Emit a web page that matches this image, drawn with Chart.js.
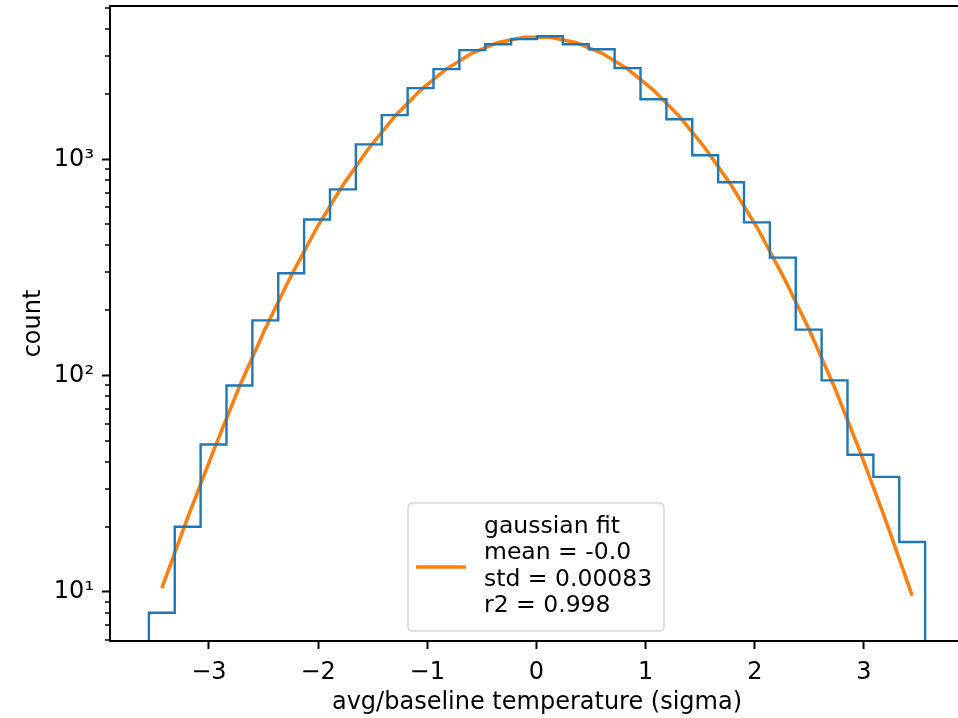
<!DOCTYPE html>
<html><head><meta charset="utf-8">
<script src="https://cdn.jsdelivr.net/npm/chart.js@4.4.1/dist/chart.umd.min.js"></script>
<style>
html,body{margin:0;padding:0;background:#fff;overflow:hidden;}
#wrap{position:relative;width:958px;height:718px;overflow:hidden;}
#c{position:absolute;left:0;top:0;width:972px;height:718px;}
</style></head><body>
<div id="wrap"><canvas id="c" width="972" height="718"></canvas></div>
<script>
// ---- data ----
const binEdgeMin = -3.55;
const binEdgeMax = 3.56;
const binCounts = [8, 20, 48, 90, 180, 297, 527, 726, 1173, 1600, 2133, 2612, 3200, 3405, 3595,
                   3710, 3405, 3230, 2640, 1897, 1532, 1044, 783, 511, 351, 163, 95, 43, 34, 17];
const fitCounts = [10.4, 22, 45, 89, 165, 290, 485, 760, 1125, 1580, 2090, 2620, 3100, 3470, 3670,
                   3670, 3470, 3100, 2620, 2090, 1580, 1125, 760, 485, 290, 165, 88, 44, 21, 9.6];
const xTicks = [-3, -2, -1, 0, 1, 2, 3];
const yTicks = [10, 100, 1000];
const yTickLabels = ['10\u00B9', '10\u00B2', '10\u00B3'];
const yMinorTicks = [6, 7, 8, 9, 20, 30, 40, 50, 60, 70, 80, 90, 200, 300, 400, 500, 600, 700, 800, 900, 2000, 3000, 4000, 5000];
const legendLines = ['gaussian fit', 'mean = -0.0', 'std = 0.00083', 'r2 = 0.998'];
const xLabel = 'avg/baseline temperature (sigma)';
const yLabel = 'count';
const xRange = [-3.906, 3.916];
const yRange = [5.92, 5117];

// ---- build datasets ----
const nBins = binCounts.length;
const binW = (binEdgeMax - binEdgeMin) / nBins;
const edges = binCounts.map((_, i) => binEdgeMin + i * binW).concat([binEdgeMax]);
const floorVal = 1;
const stepPts = [{x: edges[0], y: floorVal}];
binCounts.forEach((v, i) => { stepPts.push({x: edges[i], y: v}); stepPts.push({x: edges[i + 1], y: v}); });
stepPts.push({x: edges[nBins], y: floorVal});
const fitPts = fitCounts.map((v, i) => ({x: (edges[i] + edges[i + 1]) / 2, y: v}));

const FONT = 'DejaVu Sans';
const FS = 24;
const BLUE = '#1f77b4', ORANGE = '#ff7f0e';

const framePlugin = {
  id: 'frame',
  afterDatasetsDraw(chart) {
    const {ctx, chartArea: a, scales} = chart;
    ctx.save();
    ctx.strokeStyle = '#000'; ctx.lineWidth = 1.5;
    yMinorTicks.forEach(v => {
      const y = Math.round(scales.y.getPixelForValue(v));
      ctx.beginPath(); ctx.moveTo(a.left - 5, y); ctx.lineTo(a.left, y); ctx.stroke();
    });
    ctx.lineWidth = 2; ctx.strokeStyle = '#000'; ctx.lineCap = 'square';
    const xl = scales.x.left, xr = scales.x.right;
    ctx.beginPath();
    ctx.moveTo(xl, a.top); ctx.lineTo(xr, a.top);
    ctx.moveTo(xl, a.bottom); ctx.lineTo(xr, a.bottom);
    ctx.moveTo(xl, a.top); ctx.lineTo(xl, a.bottom);
    ctx.moveTo(xr, a.top); ctx.lineTo(xr, a.bottom);
    ctx.stroke();
    ctx.restore();
  },
  afterDraw(chart) {
    const {ctx} = chart;
    ctx.save();
    const bx = 408, by = 503, bw = 256, bh = 128, r = 5;
    ctx.beginPath();
    ctx.moveTo(bx + r, by); ctx.lineTo(bx + bw - r, by); ctx.quadraticCurveTo(bx + bw, by, bx + bw, by + r);
    ctx.lineTo(bx + bw, by + bh - r); ctx.quadraticCurveTo(bx + bw, by + bh, bx + bw - r, by + bh);
    ctx.lineTo(bx + r, by + bh); ctx.quadraticCurveTo(bx, by + bh, bx, by + bh - r);
    ctx.lineTo(bx, by + r); ctx.quadraticCurveTo(bx, by, bx + r, by);
    ctx.closePath();
    ctx.fillStyle = 'rgba(255,255,255,0.8)'; ctx.fill();
    ctx.strokeStyle = '#d6d6d6'; ctx.lineWidth = 1.5; ctx.stroke();
    ctx.strokeStyle = ORANGE; ctx.lineWidth = 3.5;
    ctx.beginPath(); ctx.moveTo(416, 567); ctx.lineTo(466, 567); ctx.stroke();
    ctx.fillStyle = '#000'; ctx.font = '23.5px "' + FONT + '"';
    ctx.textBaseline = 'middle'; ctx.textAlign = 'left';
    legendLines.forEach((t, i) => ctx.fillText(t, 484, 527 + i * 26.3));
    ctx.restore();
  }
};

new Chart(document.getElementById('c'), {
  type: 'line',
  data: {
    datasets: [
      {label: 'hist', data: stepPts, borderColor: BLUE, borderWidth: 2.4, pointRadius: 0, fill: false, tension: 0},
      {label: 'gaussian fit', data: fitPts, borderColor: ORANGE, borderWidth: 3.5, pointRadius: 0, fill: false, tension: 0}
    ]
  },
  options: {
    responsive: false, maintainAspectRatio: false, animation: false, devicePixelRatio: 1,
    layout: {padding: {top: 6, right: 8, left: 0, bottom: 0}},
    plugins: {legend: {display: false}, tooltip: {enabled: false}},
    scales: {
      x: {
        type: 'linear', min: xRange[0], max: xRange[1],
        afterBuildTicks: s => { s.ticks = xTicks.map(v => ({value: v})); },
        afterFit: s => { s.height = 77; s.paddingLeft = 0; s.paddingRight = 0; },
        grid: {display: true, drawOnChartArea: false, drawTicks: true, tickLength: 8, tickWidth: 2, tickColor: '#000'},
        border: {display: false},
        ticks: {color: '#000', font: {family: FONT, size: FS}, padding: 9, maxRotation: 0,
          callback: v => (v < 0 ? '\u2212' + Math.abs(v) : String(v))},
        title: {display: true, text: xLabel, color: '#000', font: {family: FONT, size: FS}, padding: {top: 0, bottom: 1}}
      },
      y: {
        type: 'logarithmic', min: yRange[0], max: yRange[1],
        afterBuildTicks: s => { s.ticks = yTicks.map(v => ({value: v, major: true})); },
        afterFit: s => { s.width = 110; s.paddingTop = 0; s.paddingBottom = 0; },
        grid: {display: true, drawOnChartArea: false, drawTicks: true, tickLength: 8, tickWidth: 2, tickColor: '#000'},
        border: {display: false},
        ticks: {color: '#000', font: {family: FONT, size: FS}, padding: 8,
          callback: (v) => { const i = yTicks.indexOf(v); return i >= 0 ? yTickLabels[i] : ''; }},
        title: {display: true, text: yLabel, color: '#000', font: {family: FONT, size: FS}, padding: {top: 19, bottom: 0}}
      }
    }
  },
  plugins: [framePlugin]
});
</script>
</body></html>
